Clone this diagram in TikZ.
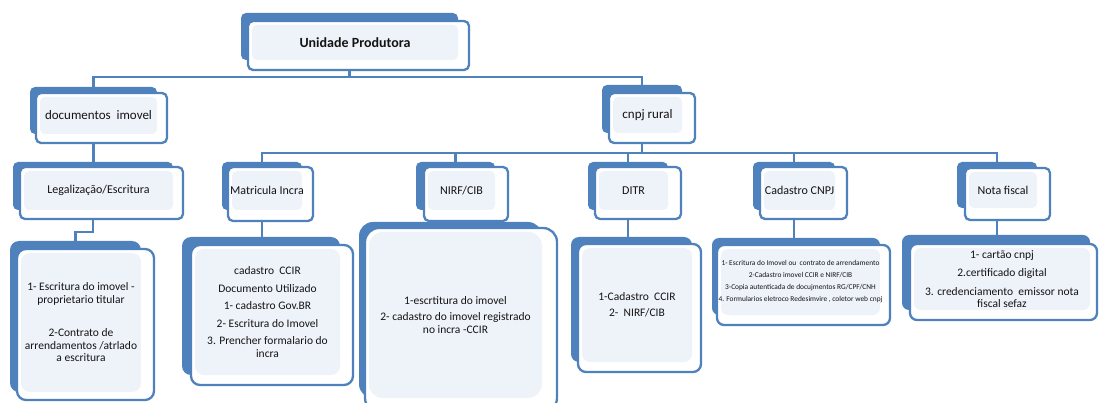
\documentclass[tikz,border=0pt]{standalone}
\usepackage{fontspec}
\setmainfont{Carlito}
\usetikzlibrary{fit}
\pgfdeclarelayer{background}
\pgfsetlayers{background,main}
\definecolor{sablue}{HTML}{4F81BD}
\definecolor{salight}{HTML}{EEF2F9}
\definecolor{satext}{HTML}{141414}
\tikzset{
  backbox/.style={fill=sablue, inner sep=0pt, outer sep=0pt},
  frontbox/.style={fill=white, draw=sablue, line width=2.3pt, inner sep=0pt, outer sep=0pt},
  lightbox/.style={fill=salight, inner sep=0pt, outer sep=0pt},
  conn/.style={draw=sablue, line width=2.6pt},
  tone/.style={inner sep=0pt, text=satext, align=center, font=\fontsize{14}{16}\selectfont\bfseries},
  ttwo/.style={inner sep=0pt, text=satext, align=center, font=\fontsize{13}{15}\selectfont},
  tthree/.style={inner sep=0pt, text=satext, align=center, font=\fontsize{12}{14}\selectfont},
  tfour/.style={inner sep=0pt, text=satext, align=center, font=\fontsize{11.5}{12.5}\selectfont},
  tsmall/.style={inner sep=0pt, text=satext, align=center, font=\fontsize{7.4}{12}\selectfont},
}
% #1 name, #2 back corners, #3 front corners, #4 light corners, #5 text style, #6 text, #7 corner radius
\newcommand\sabox[7]{%
  \node[backbox, rounded corners=#7, fit={#2}] (#1B) {};
  \node[frontbox, rounded corners=#7, fit={#3}] (#1) {};
  \node[lightbox, rounded corners=#7, fit={#4}] (#1L) {};
  \node[#5] (#1T) at (#1L.center) {#6};}
\begin{document}
\begin{tikzpicture}[x=1pt,y=-1pt]
\useasboundingbox (0,0) rectangle (1100,403);
% level 0
\sabox{up}{(241,13) (458,60)}{(248,21) (469,70)}{(252,25) (458,60)}{tone}{Unidade Produtora}{5pt}
% level 1
\sabox{doc}{(30,87) (157,134)}{(36,93) (167,143)}{(40,97) (157,134)}{ttwo}{documentos\ \ imovel}{5pt}
\sabox{cnpj}{(602,85) (682,133)}{(609,93) (695,143)}{(613,97) (682,133)}{ttwo}{cnpj rural}{5pt}
% level 2
\sabox{leg}{(13,162) (173,210)}{(20,167) (183,219)}{(24,171) (173,210)}{tthree}{Legalização/Escritura}{5pt}
\sabox{mat}{(222,162) (302,210)}{(228,167) (313,221)}{(232,171) (302,210)}{tthree}{Matricula Incra}{5pt}
\sabox{nirf}{(416,162) (495,210)}{(424,167) (508,221)}{(428,171) (495,210)}{tthree}{NIRF/CIB}{5pt}
\sabox{ditr}{(588,162) (668,210)}{(595,167) (681,219)}{(599,171) (668,210)}{tthree}{DITR}{5pt}
\sabox{cad}{(753,162) (835,210)}{(760,167) (847,219)}{(764,171) (835,210)}{tthree}{Cadastro CNPJ}{5pt}
\sabox{nota}{(957,162) (1037,208)}{(965,168) (1050,220)}{(969,172) (1037,208)}{tthree}{Nota fiscal}{5pt}
% level 3
\sabox{esc}{(10,241) (141,392)}{(17,249) (154,400)}{(21,253) (141,392)}{tfour}{1- Escritura do imovel -\\proprietario titular\\[21pt]2-Contrato de\\arrendamentos /atrlado\\a escritura}{9pt}
\sabox{matd}{(182,237) (340,375)}{(191,245) (353,385)}{(195,249) (340,375)}{tfour}{cadastro\ \ CCIR\\[5pt]Documento Utilizado\\[5pt]1- cadastro Gov.BR\\[5pt]2- Escritura do Imovel\\[5pt]3. Prencher formalario do\\incra}{9pt}
\sabox{nirfd}{(359,222) (542,398)}{(365,228) (557,412)}{(369,232) (542,398)}{tfour}{1-escrtitura do imovel\\[4pt]2- cadastro do imovel registrado\\no incra -CCIR}{14pt}
\sabox{ditrd}{(571,237) (692,362)}{(578,244) (701,372)}{(582,248) (692,362)}{tfour}{1-Cadastro\ \ CCIR\\[4pt]2-\ \ NIRF/CIB}{8pt}
\sabox{cadd}{(712,238) (880,315)}{(717,245) (890,325)}{(721,249) (880,315)}{tsmall}{1- Escritura do Imovel ou\ \ contrato de arrendamento\\2-Cadastro imovel CCIR e NIRF/CIB\\3-Copia autenticada de docujmentos RG/CPF/CNH\\4. Formularios eletroco Redesimvire , coletor web cnpj}{7pt}
\sabox{notad}{(902,235) (1090,310)}{(910,244) (1097,320)}{(914,248) (1090,310)}{tfour}{1- cartão cnpj\\[6pt]2.certificado digital\\[6pt]3. credenciamento\ \ emissor nota\\fiscal sefaz}{7pt}
% connectors
\coordinate (bus1) at (0,77);
\coordinate (bus2) at (0,153);
\coordinate (elb) at (0,232);
\begin{pgfonlayer}{background}
\draw[conn] (upB.south) -- (upB.south |- bus1) -| (docB.north);
\draw[conn] (upB.south |- bus1) -| (cnpjB.north);
\draw[conn] (docB.south) -- (docB.south |- legB.north);
\draw[conn] (cnpjB.south) -- (cnpjB.south |- bus2);
\draw[conn] (matB.north) |- (notaB.north |- bus2) -- (notaB.north);
\draw[conn] (nirfB.north) -- (nirfB.north |- bus2);
\draw[conn] (ditrB.north) -- (ditrB.north |- bus2);
\draw[conn] (cadB.north) -- (cadB.north |- bus2);
\draw[conn] (legB.south) -- (legB.south |- elb) -| (escB.north);
\draw[conn] (matB.south) -- (matB.south |- matdB.north);
\draw[conn] (nirfB.south) -- (nirfB.south |- nirfdB.north);
\draw[conn] (ditrB.south) -- (ditrB.south |- ditrdB.north);
\draw[conn] (cadB.south) -- (cadB.south |- caddB.north);
\draw[conn] (notaB.south) -- (notaB.south |- notadB.north);
\end{pgfonlayer}
\end{tikzpicture}
\end{document}
